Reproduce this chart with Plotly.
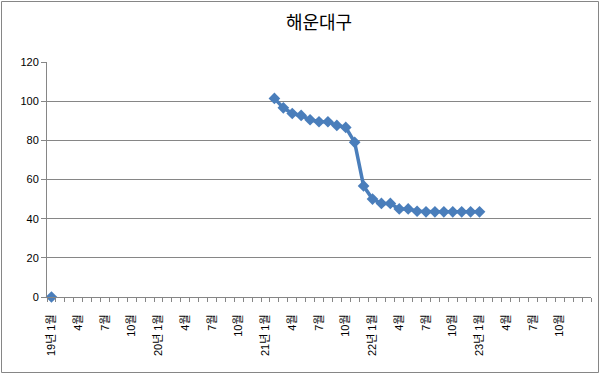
import plotly.graph_objects as go

# Categories: monthly, 19년 1월 .. 24년 1월 (61 categories)
months = []
for yr in range(19, 25):
    for m in range(1, 13):
        months.append((yr, m))
months = months[:61]

tick_labels = []
for yr, m in months:
    if m == 1:
        tick_labels.append(f"{yr}년 1월")
    else:
        tick_labels.append(f"{m}월")

label_every = 3
values = [0] + [None] * 24 + [
    101.4, 96.6, 93.7, 92.7, 90.5, 89.5, 89.5, 87.6, 86.6, 79.0,
    56.7, 50.0, 47.8, 47.8, 45.0, 45.0, 43.8, 43.5, 43.5, 43.5,
    43.5, 43.5, 43.5, 43.5,
]
values += [None] * (len(months) - len(values))

x = list(range(len(months)))
tickvals = [i for i in x if i % label_every == 0 and i < 60]
ticktext = [tick_labels[i] for i in tickvals]

blue = "#4a7ebb"
grid = "#868686"

fig = go.Figure()
fig.add_trace(go.Scatter(
    x=x, y=values, mode="lines+markers",
    line=dict(color=blue, width=3.5),
    marker=dict(symbol="diamond", size=9, color=blue),
    connectgaps=False, cliponaxis=False, showlegend=False,
))

W, H = 601, 375
L, R, T, B = 47, 10, 62, 78
pw, ph = W - L - R, H - T - B

fig.update_layout(
    width=W, height=H,
    margin=dict(l=L, r=R, t=T, b=B, autoexpand=False),
    paper_bgcolor="white", plot_bgcolor="white",
    title=dict(text="해운대구", x=0.5, xref="paper", y=1 - 23 / H, yanchor="middle",
               font=dict(family="Noto Sans CJK KR", size=18, color="#000000")),
    font=dict(family="Liberation Sans, Noto Sans CJK KR", size=11, color="#000000"),
    xaxis=dict(
        range=[-0.5, len(months) - 0.5], automargin=False,
        tickmode="array", tickvals=tickvals, ticktext=ticktext,
        tickangle=-90, ticks="", showgrid=False, zeroline=False,
        showline=True, linecolor=grid, linewidth=1,
        tickfont=dict(size=11), ticklabelstandoff=12,
        minor=dict(ticks="outside", tickmode="linear", tick0=0.5, dtick=1,
                   ticklen=4, tickcolor=grid, showgrid=False),
    ),
    yaxis=dict(
        range=[0, 120], tickmode="linear", tick0=0, dtick=20, automargin=False,
        showgrid=True, gridcolor=grid, gridwidth=1,
        zeroline=False, showline=True, linecolor=grid, linewidth=1,
        ticks="outside", ticklen=5, tickcolor=grid,
        tickfont=dict(size=11),
    ),
    shapes=[dict(
        type="rect", xref="paper", yref="paper",
        x0=(1.5 - L) / pw, x1=(598.5 - L) / pw,
        y0=(H - B - 372.5) / ph, y1=(H - B - 1.5) / ph,
        line=dict(color="#868686", width=1), fillcolor="rgba(0,0,0,0)",
        layer="below",
    )],
)

fig.write_html(
    "out.html",
    config={"displayModeBar": False},
    post_script="document.body.style.margin='0';document.body.style.overflow='hidden';",
)
